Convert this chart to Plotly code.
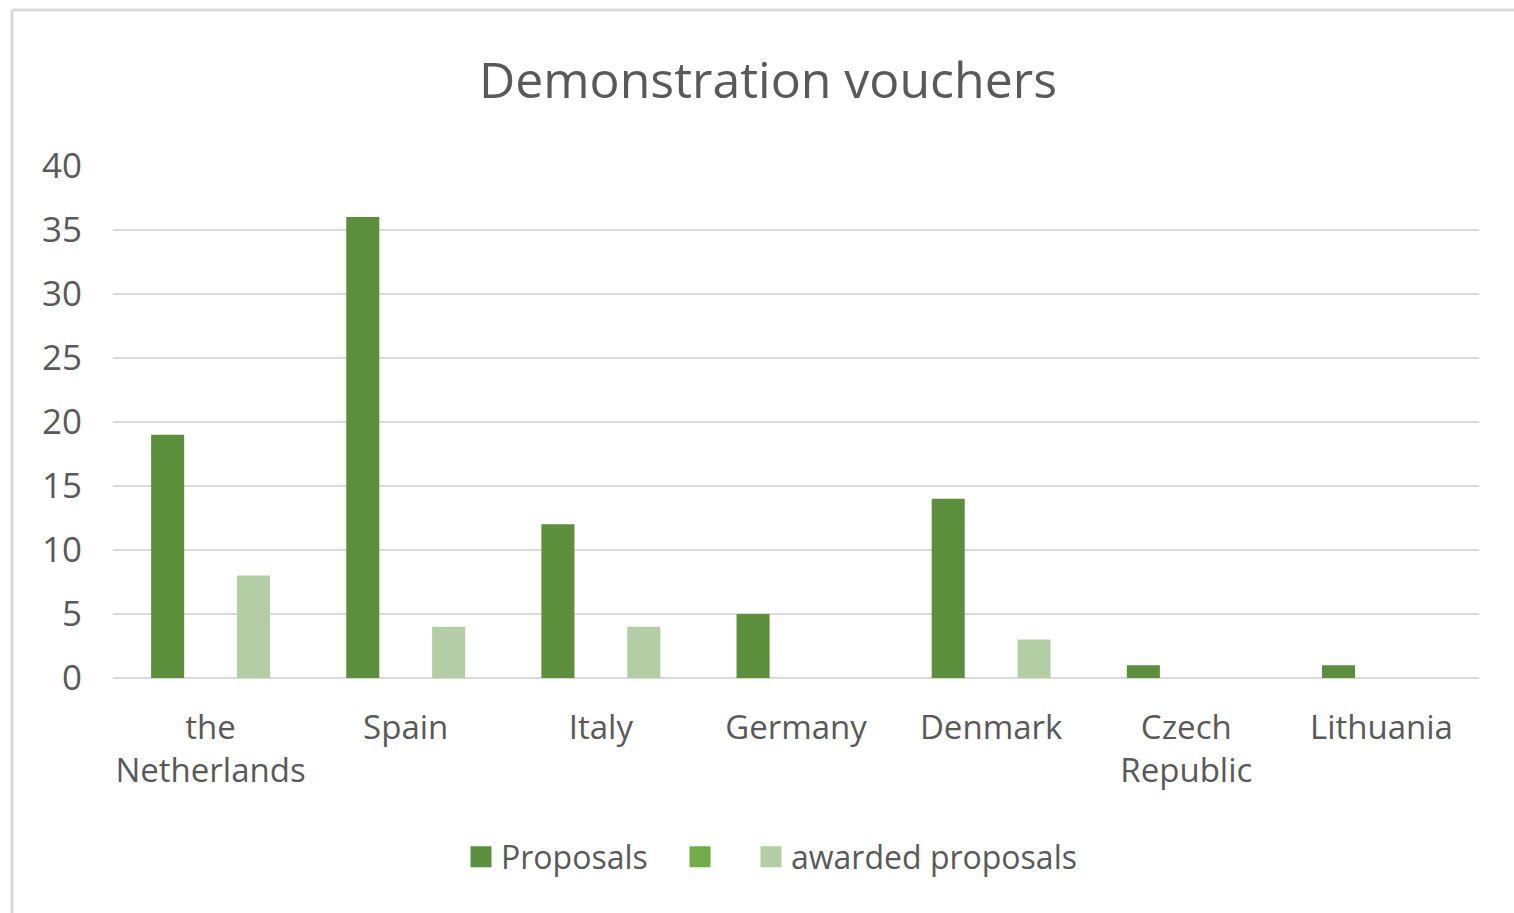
import plotly.graph_objects as go

categories = ["the<br>Netherlands", "Spain", "Italy", "Germany", "Denmark", "Czech<br>Republic", "Lithuania"]
proposals = [19, 36, 12, 5, 14, 1, 1]
middle_series = [None, None, None, None, None, None, None]
awarded = [8, 4, 4, 0, 3, 0, 0]
series_names = ["Proposals", " ", "awarded proposals"]
colors = ["#5B8F3B", "#70AD47", "#B3CEA4"]
y_ticks = [0, 5, 10, 15, 20, 25, 30, 35, 40]

FONT = "Open Sans"
TXT = "#595959"

fig = go.Figure()
for name, vals, col in zip(series_names, [proposals, middle_series, awarded], colors):
    fig.add_trace(go.Bar(x=categories, y=vals, name=name, marker=dict(color=col, line=dict(width=0)),
                         showlegend=False))
# legend proxies (larger square symbols), each in its own legend for exact spacing
legend_ids = ["legend", "legend2", "legend3"]
for name, col, lid in zip(series_names, colors, legend_ids):
    fig.add_trace(go.Scatter(x=[None], y=[None], mode="markers", name=name, legend=lid,
                             marker=dict(symbol="square", size=16, color=col, line=dict(color=col, width=6))))

L, R, T, B = 113, 35, 165, 235
W, H = 1514, 913
pw, ph = W - L - R, H - T - B

def px(x):
    return (x - L) / pw

def py(y):
    return (H - B - y) / ph

def legend_at(xpix):
    return dict(orientation="h", x=xpix / W, xanchor="left", xref="container",
                y=1 - 857 / H, yanchor="middle", yref="container",
                font=dict(family=FONT, size=32, color=TXT), itemsizing="trace",
                bgcolor="rgba(0,0,0,0)")

fig.update_layout(
    width=W, height=H,
    margin=dict(l=L, r=R, t=T, b=B),
    paper_bgcolor="white", plot_bgcolor="white",
    title=dict(text="Demonstration vouchers", x=768 / W, xref="container",
               xanchor="center", y=1 - 80 / H, yanchor="middle",
               font=dict(family=FONT, size=50, color=TXT)),
    barmode="group", bargap=0.34, bargroupgap=0.23,
    font=dict(family=FONT, color=TXT),
    legend=legend_at(461),
    legend2=legend_at(680),
    legend3=legend_at(751),
    xaxis=dict(showgrid=False, showline=False, zeroline=False, ticks="",
               tickfont=dict(family=FONT, size=33, color=TXT), ticklabelstandoff=27),
    yaxis=dict(range=[0, 40.06], tickvals=y_ticks, showgrid=True, gridcolor="#D9D9D9", gridwidth=2,
               zeroline=True, zerolinecolor="#D9D9D9", zerolinewidth=2, showline=False, ticks="",
               tickfont=dict(family=FONT, size=35, color=TXT), ticklabelstandoff=30),
    shapes=[
        dict(type="line", xref="paper", yref="paper", x0=px(12), x1=px(12), y0=py(10), y1=py(H + 20),
             line=dict(color="#D9D9D9", width=3)),
        dict(type="line", xref="paper", yref="paper", x0=px(12), x1=px(W + 20), y0=py(10), y1=py(10),
             line=dict(color="#D9D9D9", width=3)),
    ],
)

fig.write_html("out.html", config={"displayModeBar": False},
               post_script="document.body.style.margin='0';document.body.style.overflow='hidden';")
